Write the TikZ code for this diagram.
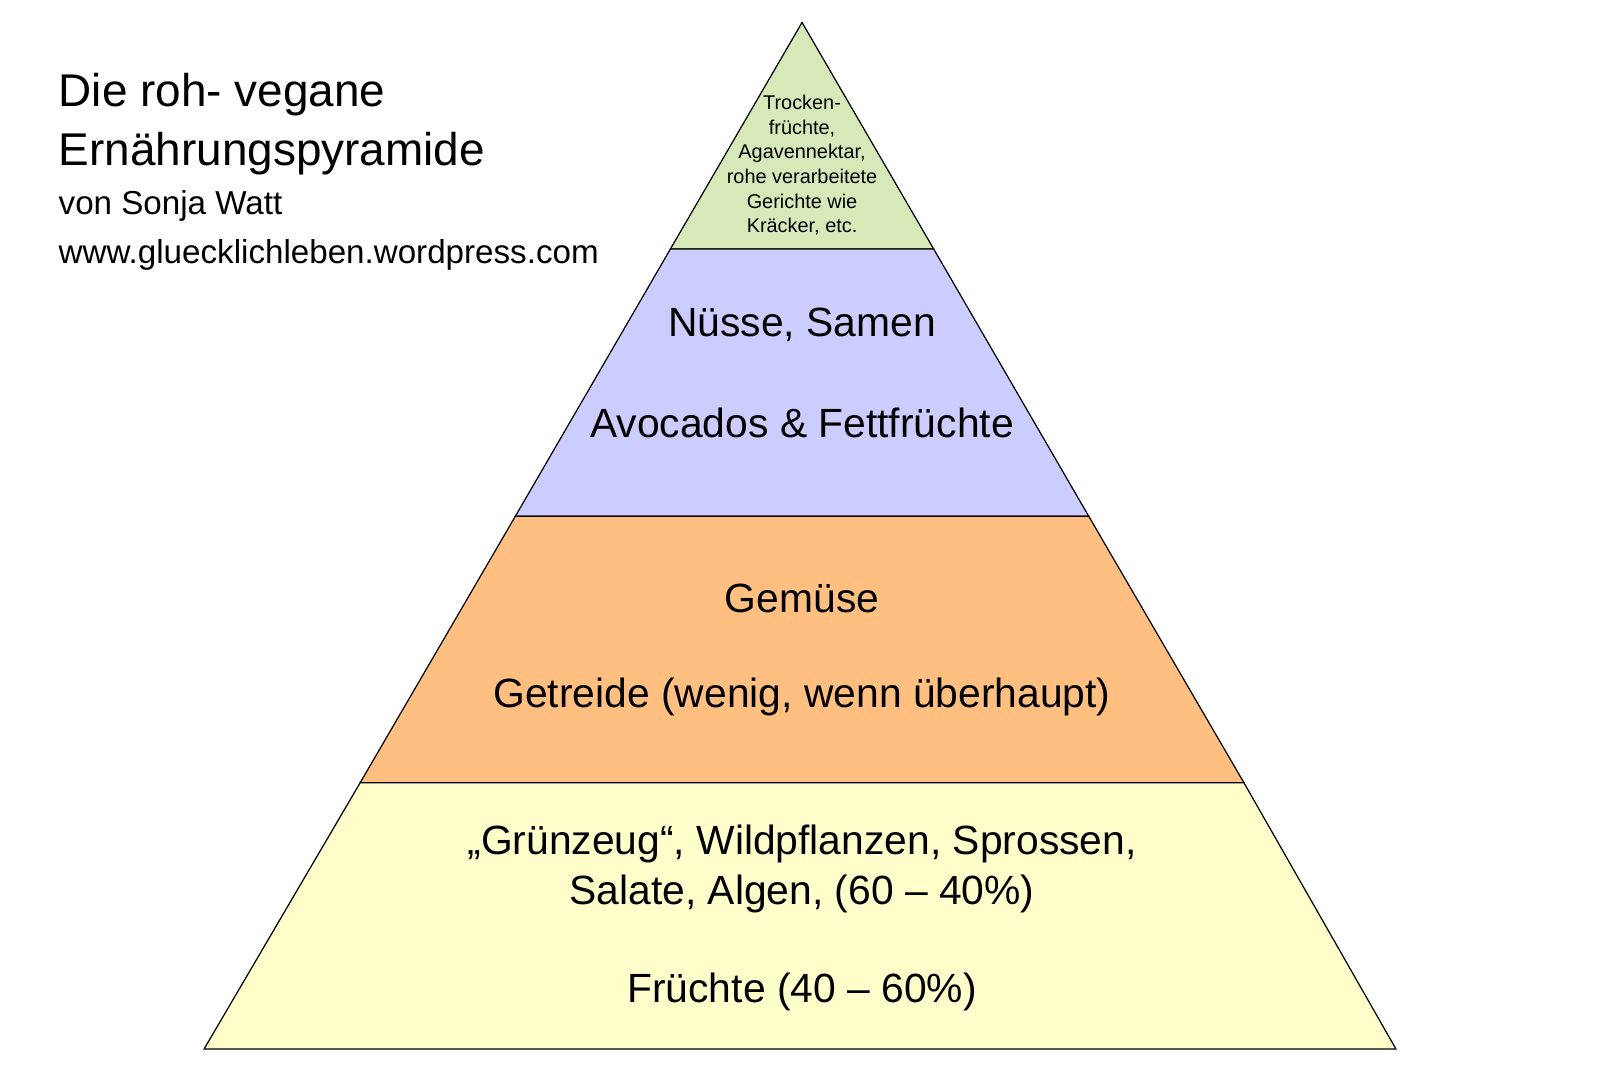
\documentclass[tikz,border=0pt]{standalone}
\usepackage{fontspec}
\setmainfont{Liberation Sans}
\begin{document}
\begin{tikzpicture}[x=1pt,y=-1pt,
  layer/.style={draw=black,line width=1.2pt,line join=miter},
  lbl/.style={align=center,font=\fontsize{40}{46}\selectfont},
  ttl/.style={anchor=west,align=left}]
\useasboundingbox (0,0) rectangle (1568,1045);
\definecolor{cgreen}{HTML}{D7E9B9}
\definecolor{cpurple}{HTML}{CCCCFF}
\definecolor{corange}{HTML}{FFBF80}
\definecolor{cyellow}{HTML}{FFFFCC}
\coordinate (A) at (786,22);
\filldraw[layer,fill=cgreen] (A) -- (915,244) -- (657,244) -- cycle;
\filldraw[layer,fill=cpurple] (657,244) -- (915,244) -- (1067,506) -- (505,506) -- cycle;
\filldraw[layer,fill=corange] (505,506) -- (1067,506) -- (1219,767) -- (353,767) -- cycle;
\filldraw[layer,fill=cyellow] (353,767) -- (1219,767) -- (1368,1028) -- (200,1028) -- cycle;
\node[align=center,font=\fontsize{19.5}{24.2}\selectfont] (t1) at (786,162) {Trocken-\\früchte,\\Agavennektar,\\rohe verarbeitete\\Gerichte wie\\Kräcker, etc.};
\node[lbl] (t2a) at (786,318) {Nüsse, Samen};
\node[lbl] (t2b) at (786,414) {Avocados \& Fettfrüchte};
\node[lbl] (t3a) at (786,586) {Gemüse};
\node[lbl] (t3b) at (786,683) {Getreide (wenig, wenn überhaupt)};
\node[lbl,font=\fontsize{40}{49}\selectfont] (t4a) at (786,852) {„Grünzeug“, Wildpflanzen, Sprossen,\\Salate, Algen, (60 – 40\%)};
\node[lbl] (t4b) at (786,972) {Früchte (40 – 60\%)};
\node[ttl,font=\fontsize{45}{58}\selectfont] (title) at (54,122) {Die roh- vegane\\Ernährungspyramide};
\node[ttl,font=\fontsize{32.5}{48}\selectfont] (sub) at (54,226) {von Sonja Watt\\www.gluecklichleben.wordpress.com};
\end{tikzpicture}
\end{document}
